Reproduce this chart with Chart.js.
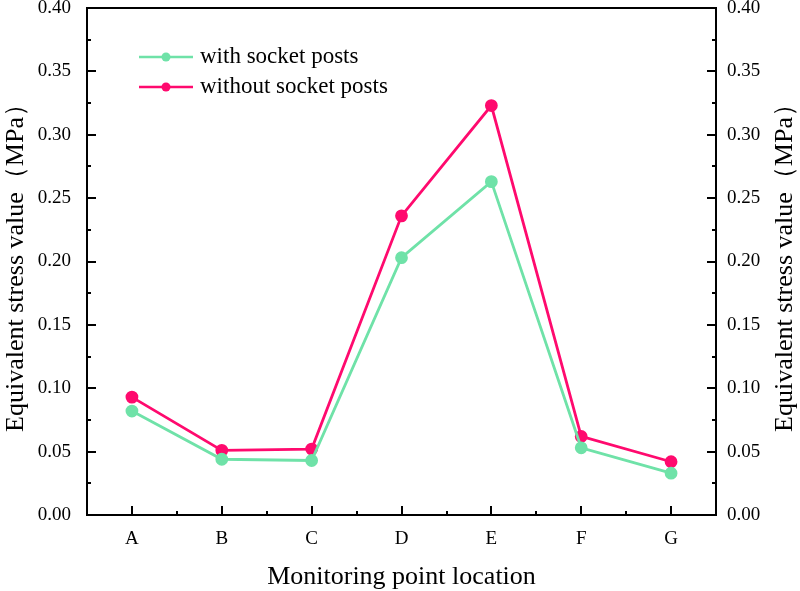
<!DOCTYPE html>
<html>
<head>
<meta charset="utf-8">
<script src="https://cdn.jsdelivr.net/npm/chart.js@4.4.0/dist/chart.umd.min.js"></script>
<style>
  html, body { margin: 0; padding: 0; background: #fff; }
  #wrap { width: 800px; height: 591px; }
</style>
</head>
<body>
<div id="wrap"><canvas id="myChart"></canvas></div>
<script>
const labels = ["A", "B", "C", "D", "E", "F", "G"];
const withPosts = [0.082, 0.044, 0.043, 0.203, 0.263, 0.053, 0.033];
const withoutPosts = [0.093, 0.051, 0.052, 0.236, 0.323, 0.062, 0.042];
const seriesNames = ["with socket posts", "without socket posts"];
const yTitle = "Equivalent stress value（MPa）";
const xTitle = "Monitoring point location";

const FONT = "'Liberation Serif', 'Times New Roman', serif";
const GREEN = "#6fe2a8";
const RED = "#ff0a6e";

// axes box, ticks, titles and legend drawn by hand
const framePlugin = {
  id: "frame",
  afterDraw(chart) {
    const ctx = chart.ctx;
    const a = chart.chartArea;
    const x = chart.scales.x;
    const y = chart.scales.y;
    ctx.save();
    ctx.strokeStyle = "#000";
    ctx.lineWidth = 2;
    ctx.strokeRect(a.left, a.top, a.right - a.left, a.bottom - a.top);

    ctx.beginPath();
    // y major / minor ticks, both sides, pointing in
    for (let v = 0; v <= 0.4001; v += 0.05) {
      const py = Math.round(y.getPixelForValue(v));
      ctx.moveTo(a.left, py); ctx.lineTo(a.left + 9, py);
      ctx.moveTo(a.right, py); ctx.lineTo(a.right - 9, py);
      if (v < 0.39) {
        const my = Math.round(y.getPixelForValue(v + 0.025));
        ctx.moveTo(a.left, my); ctx.lineTo(a.left + 4, my);
        ctx.moveTo(a.right, my); ctx.lineTo(a.right - 4, my);
      }
    }
    // x ticks
    for (let i = 0; i < labels.length; i++) {
      const px = Math.round(x.getPixelForValue(i));
      ctx.moveTo(px, a.bottom); ctx.lineTo(px, a.bottom - 9);
      if (i < labels.length - 1) {
        const mx = Math.round((px + x.getPixelForValue(i + 1)) / 2);
        ctx.moveTo(mx, a.bottom); ctx.lineTo(mx, a.bottom - 4);
      }
    }
    ctx.stroke();

    // titles
    ctx.fillStyle = "#000";
    ctx.font = "26px " + FONT;
    ctx.textAlign = "center";
    ctx.textBaseline = "middle";
    const cy = (a.top + a.bottom) / 2;
    [16, 785].forEach(tx => {
      ctx.save();
      ctx.translate(tx, cy);
      ctx.rotate(-Math.PI / 2);
      ctx.fillText(yTitle, 0, 0);
      ctx.restore();
    });
    ctx.fillText(xTitle, (a.left + a.right) / 2, 577);

    // legend
    ctx.font = "23px " + FONT;
    ctx.textAlign = "left";
    chart.data.datasets.forEach((ds, i) => {
      const ly = 57 + i * 30;
      ctx.strokeStyle = ds.borderColor;
      ctx.lineWidth = 2.5;
      ctx.beginPath();
      ctx.moveTo(139, ly); ctx.lineTo(193, ly);
      ctx.stroke();
      ctx.fillStyle = ds.borderColor;
      ctx.beginPath();
      ctx.arc(166, ly, 4.5, 0, Math.PI * 2);
      ctx.fill();
      ctx.fillStyle = "#000";
      ctx.fillText(ds.label, 200, ly);
    });
    ctx.restore();
  }
};

const tickFont = { family: FONT, size: 19 };

function fixY(w) {
  return s => {
    s.width = w;
    s.paddingTop = 0;
    s.paddingBottom = 0;
  };
}

const ctx = document.getElementById("myChart").getContext("2d");
const myChart = new Chart(ctx, {
  type: "line",
  data: {
    labels: labels,
    datasets: [
      {
        label: seriesNames[0],
        data: withPosts,
        borderColor: GREEN,
        backgroundColor: GREEN,
        pointBackgroundColor: GREEN,
        pointBorderColor: GREEN,
        borderWidth: 2.8,
        pointRadius: 5,
        tension: 0,
      },
      {
        label: seriesNames[1],
        data: withoutPosts,
        borderColor: RED,
        backgroundColor: RED,
        pointBackgroundColor: RED,
        pointBorderColor: RED,
        borderWidth: 2.8,
        pointRadius: 5,
        tension: 0,
      },
    ],
  },
  options: {
    responsive: true,
    maintainAspectRatio: false,
    animation: false,
    layout: { padding: { top: 8, left: 0, right: 0, bottom: 0 } },
    plugins: {
      legend: { display: false },
      tooltip: { enabled: false },
    },
    scales: {
      x: {
        offset: true,
        grid: { display: false },
        border: { display: false },
        ticks: { font: tickFont, color: "#000", padding: 5 },
        afterFit(s) {
          s.height = 76;
          s.paddingLeft = 0;
          s.paddingRight = 0;
        },
      },
      y: {
        position: "left",
        min: 0,
        max: 0.4,
        grid: { display: false },
        border: { display: false },
        ticks: {
          stepSize: 0.05,
          font: tickFont,
          color: "#000",
          padding: 8,
          callback: v => v.toFixed(2),
        },
        afterFit: fixY(87),
      },
      y2: {
        position: "right",
        min: 0,
        max: 0.4,
        grid: { display: false },
        border: { display: false },
        ticks: {
          stepSize: 0.05,
          font: tickFont,
          color: "#000",
          padding: 3,
          callback: v => v.toFixed(2),
        },
        afterFit: fixY(84),
      },
    },
  },
  plugins: [framePlugin],
});
</script>
</body>
</html>
